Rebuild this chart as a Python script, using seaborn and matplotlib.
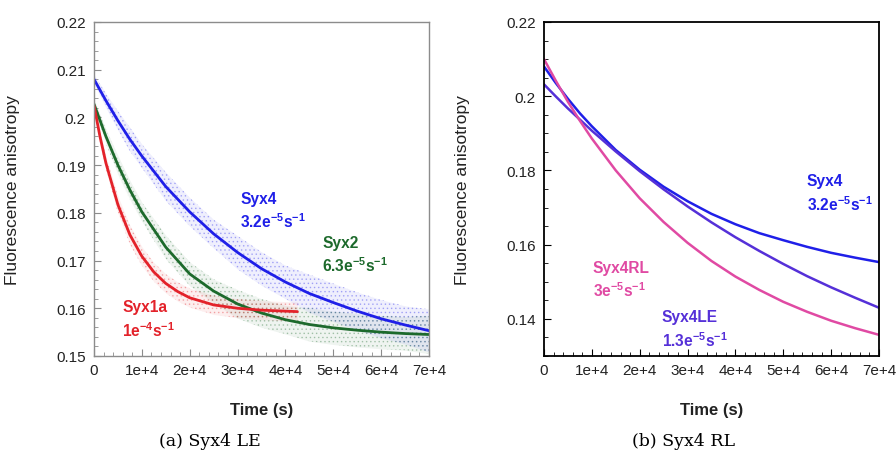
import numpy as np
import pandas as pd
import matplotlib
matplotlib.use("Agg")
import matplotlib.pyplot as plt
import seaborn as sns

# --- data -------------------------------------------------------------
time_s = [0, 2500, 5000, 7500, 10000, 15000, 20000, 25000, 30000, 35000,
          40000, 45000, 50000, 55000, 60000, 65000, 70000]

syx4_fit = [0.2080, 0.2035, 0.1993, 0.1954, 0.1919, 0.1855, 0.1802, 0.1756,
            0.1717, 0.1683, 0.1655, 0.1631, 0.1612, 0.1594, 0.1578, 0.1565, 0.1553]
syx2_fit = [0.2028, 0.1960, 0.1900, 0.1848, 0.1802, 0.1728, 0.1672, 0.1636,
            0.1609, 0.1590, 0.1576, 0.1566, 0.1559, 0.1554, 0.1550, 0.1547, 0.1545]

syx1a_time = [0, 1250, 2500, 5000, 7500, 10000, 12500, 15000, 17500, 20000,
              25000, 30000, 35000, 40000, 42500]
syx1a_fit = [0.2025, 0.1960, 0.1904, 0.1817, 0.1754, 0.1709, 0.1676, 0.1652,
             0.1635, 0.1622, 0.1607, 0.1600, 0.1596, 0.1594, 0.1593]

# spread of the raw anisotropy readings around each fit
syx4_spread = [0.0010, 0.0015, 0.0020, 0.0025, 0.0025, 0.0030, 0.0030, 0.0030,
               0.0035, 0.0035, 0.0035, 0.0040, 0.0040, 0.0040, 0.0040, 0.0040, 0.0045]
syx2_spread = [0.0010, 0.0015, 0.0020, 0.0020, 0.0020, 0.0025, 0.0025, 0.0025,
               0.0030, 0.0030, 0.0030, 0.0035, 0.0035, 0.0035, 0.0035, 0.0035, 0.0040]
syx1a_spread = [0.0010, 0.0012, 0.0015, 0.0018, 0.0020, 0.0020, 0.0020, 0.0020,
                0.0020, 0.0020, 0.0020, 0.0020, 0.0020, 0.0020, 0.0020]

syx4le_fit = [0.2032, 0.1999, 0.1967, 0.1937, 0.1907, 0.1851, 0.1798, 0.1749,
              0.1703, 0.1660, 0.1620, 0.1583, 0.1548, 0.1515, 0.1485, 0.1457, 0.1430]
syx4rl_fit = [0.2100, 0.2041, 0.1985, 0.1934, 0.1886, 0.1800, 0.1725, 0.1661,
              0.1605, 0.1556, 0.1514, 0.1478, 0.1446, 0.1419, 0.1395, 0.1375, 0.1357]

x_ticks = [0, 10000, 20000, 30000, 40000, 50000, 60000, 70000]
x_ticklabels = ["0", "1e+4", "2e+4", "3e+4", "4e+4", "5e+4", "6e+4", "7e+4"]
left_yticks = [0.15, 0.16, 0.17, 0.18, 0.19, 0.2, 0.21, 0.22]
left_yticklabels = ["0.15", "0.16", "0.17", "0.18", "0.19", "0.2", "0.21", "0.22"]
right_yticks = [0.14, 0.16, 0.18, 0.2, 0.22]
right_yticklabels = ["0.14", "0.16", "0.18", "0.2", "0.22"]

# --- style ------------------------------------------------------------
sns.set_theme(style="ticks")
plt.rcParams["font.family"] = ["Liberation Sans", "DejaVu Sans"]
plt.rcParams["mathtext.fontset"] = "custom"
plt.rcParams["mathtext.rm"] = "Liberation Sans"
plt.rcParams["mathtext.bf"] = "Liberation Sans:bold"
plt.rcParams["hatch.linewidth"] = 0.6

C_BLUE = "#1f1fe8"
C_GREEN = "#1d6a2c"
C_RED = "#e3222a"
C_PINK = "#e04aa3"
C_PURPLE = "#5530d8"

fig = plt.figure(figsize=(8.96, 4.52), dpi=100)
ax_a = fig.add_axes([0.1049, 0.2102, 0.3739, 0.7390])
ax_b = fig.add_axes([0.6071, 0.2102, 0.3739, 0.7390])


def style_axes(ax, yticks, yticklabels, ylim, ymin_step, frame):
    ax.set_xlim(0, 70000)
    ax.set_ylim(*ylim)
    ax.set_xticks(x_ticks)
    ax.set_xticklabels(x_ticklabels)
    ax.set_yticks(yticks)
    ax.set_yticklabels(yticklabels)
    ax.xaxis.set_minor_locator(matplotlib.ticker.MultipleLocator(2000))
    ax.yaxis.set_minor_locator(matplotlib.ticker.MultipleLocator(ymin_step))
    for s in ax.spines.values():
        s.set_visible(True)
        s.set_color(frame)
        s.set_linewidth(1.0 if frame != "black" else 1.3)
    ax.tick_params(which="both", direction="in", top=False, right=False,
                   color=frame, labelsize=11, labelcolor="#222222")
    ax.tick_params(which="major", length=5, width=0.8)
    ax.tick_params(which="minor", length=3, width=0.6)
    ax.tick_params(axis="y", pad=6)
    ax.tick_params(axis="x", pad=5)
    ax.set_xlabel("Time (s)", fontsize=12, fontweight="bold", color="#222222")
    ax.set_ylabel("Fluorescence anisotropy", fontsize=12.5, color="#222222")
    ax.xaxis.set_label_coords(0.5, -0.138)
    ax.yaxis.set_label_coords(-0.222, 0.5)
    ax.set_facecolor("white")


# --- panel (a): raw readings and single-exponential fits ---------------
def cloud(ax, t, fit, spread, color):
    lo = np.array(fit) - np.array(spread)
    hi = np.array(fit) + np.array(spread)
    ax.fill_between(t, lo, hi, facecolor=color, alpha=0.07, linewidth=0)
    ax.fill_between(t, lo, hi, facecolor="none", edgecolor=color, alpha=0.28,
                    hatch="....", linewidth=0)


cloud(ax_a, time_s, syx4_fit, syx4_spread, C_BLUE)
cloud(ax_a, time_s, syx2_fit, syx2_spread, C_GREEN)
cloud(ax_a, syx1a_time, syx1a_fit, syx1a_spread, C_RED)

fits_a = pd.concat([
    pd.DataFrame({"t": time_s, "r": syx4_fit, "name": "Syx4"}),
    pd.DataFrame({"t": time_s, "r": syx2_fit, "name": "Syx2"}),
    pd.DataFrame({"t": syx1a_time, "r": syx1a_fit, "name": "Syx1a"}),
])
sns.lineplot(data=fits_a, x="t", y="r", hue="name",
             palette={"Syx4": C_BLUE, "Syx2": C_GREEN, "Syx1a": C_RED},
             linewidth=2.0, legend=False, ax=ax_a, sort=False)

style_axes(ax_a, left_yticks, left_yticklabels, (0.15, 0.22), 0.002, "#8c8c8c")

lab = dict(transform=ax_a.transAxes, fontsize=11.2, fontweight="bold",
           ha="left", va="center")
ax_a.text(0.436, 0.470, "Syx4", color=C_BLUE, **lab)
ax_a.text(0.436, 0.405, r"$\mathbf{3.2e^{-5}s^{-1}}$", color=C_BLUE, **lab)
ax_a.text(0.681, 0.341, "Syx2", color=C_GREEN, **lab)
ax_a.text(0.681, 0.273, r"$\mathbf{6.3e^{-5}s^{-1}}$", color=C_GREEN, **lab)
ax_a.text(0.084, 0.147, "Syx1a", color=C_RED, **lab)
ax_a.text(0.084, 0.079, r"$\mathbf{1e^{-4}s^{-1}}$", color=C_RED, **lab)

# --- panel (b): fitted decays of the mutants --------------------------
fits_b = pd.concat([
    pd.DataFrame({"t": time_s, "r": syx4_fit, "name": "Syx4"}),
    pd.DataFrame({"t": time_s, "r": syx4le_fit, "name": "Syx4LE"}),
    pd.DataFrame({"t": time_s, "r": syx4rl_fit, "name": "Syx4RL"}),
])
sns.lineplot(data=fits_b, x="t", y="r", hue="name",
             palette={"Syx4": C_BLUE, "Syx4LE": C_PURPLE, "Syx4RL": C_PINK},
             linewidth=1.8, legend=False, ax=ax_b, sort=False)

style_axes(ax_b, right_yticks, right_yticklabels, (0.13, 0.22), 0.005, "black")

lab_b = dict(lab, transform=ax_b.transAxes)
ax_b.text(0.785, 0.524, "Syx4", color=C_BLUE, **lab_b)
ax_b.text(0.785, 0.455, r"$\mathbf{3.2e^{-5}s^{-1}}$", color=C_BLUE, **lab_b)
ax_b.text(0.146, 0.266, "Syx4RL", color=C_PINK, **lab_b)
ax_b.text(0.146, 0.198, r"$\mathbf{3e^{-5}s^{-1}}$", color=C_PINK, **lab_b)
ax_b.text(0.352, 0.117, "Syx4LE", color=C_PURPLE, **lab_b)
ax_b.text(0.352, 0.049, r"$\mathbf{1.3e^{-5}s^{-1}}$", color=C_PURPLE, **lab_b)

# sub-figure captions
cap = dict(ha="center", va="center", fontsize=12.5, family=["DejaVu Serif"],
           color="black")
fig.text(210 / 896, 1 - 442 / 452, "(a) Syx4 LE", **cap)
fig.text(683 / 896, 1 - 442 / 452, "(b) Syx4 RL", **cap)

fig.savefig("out.png", dpi=100, facecolor="white")
